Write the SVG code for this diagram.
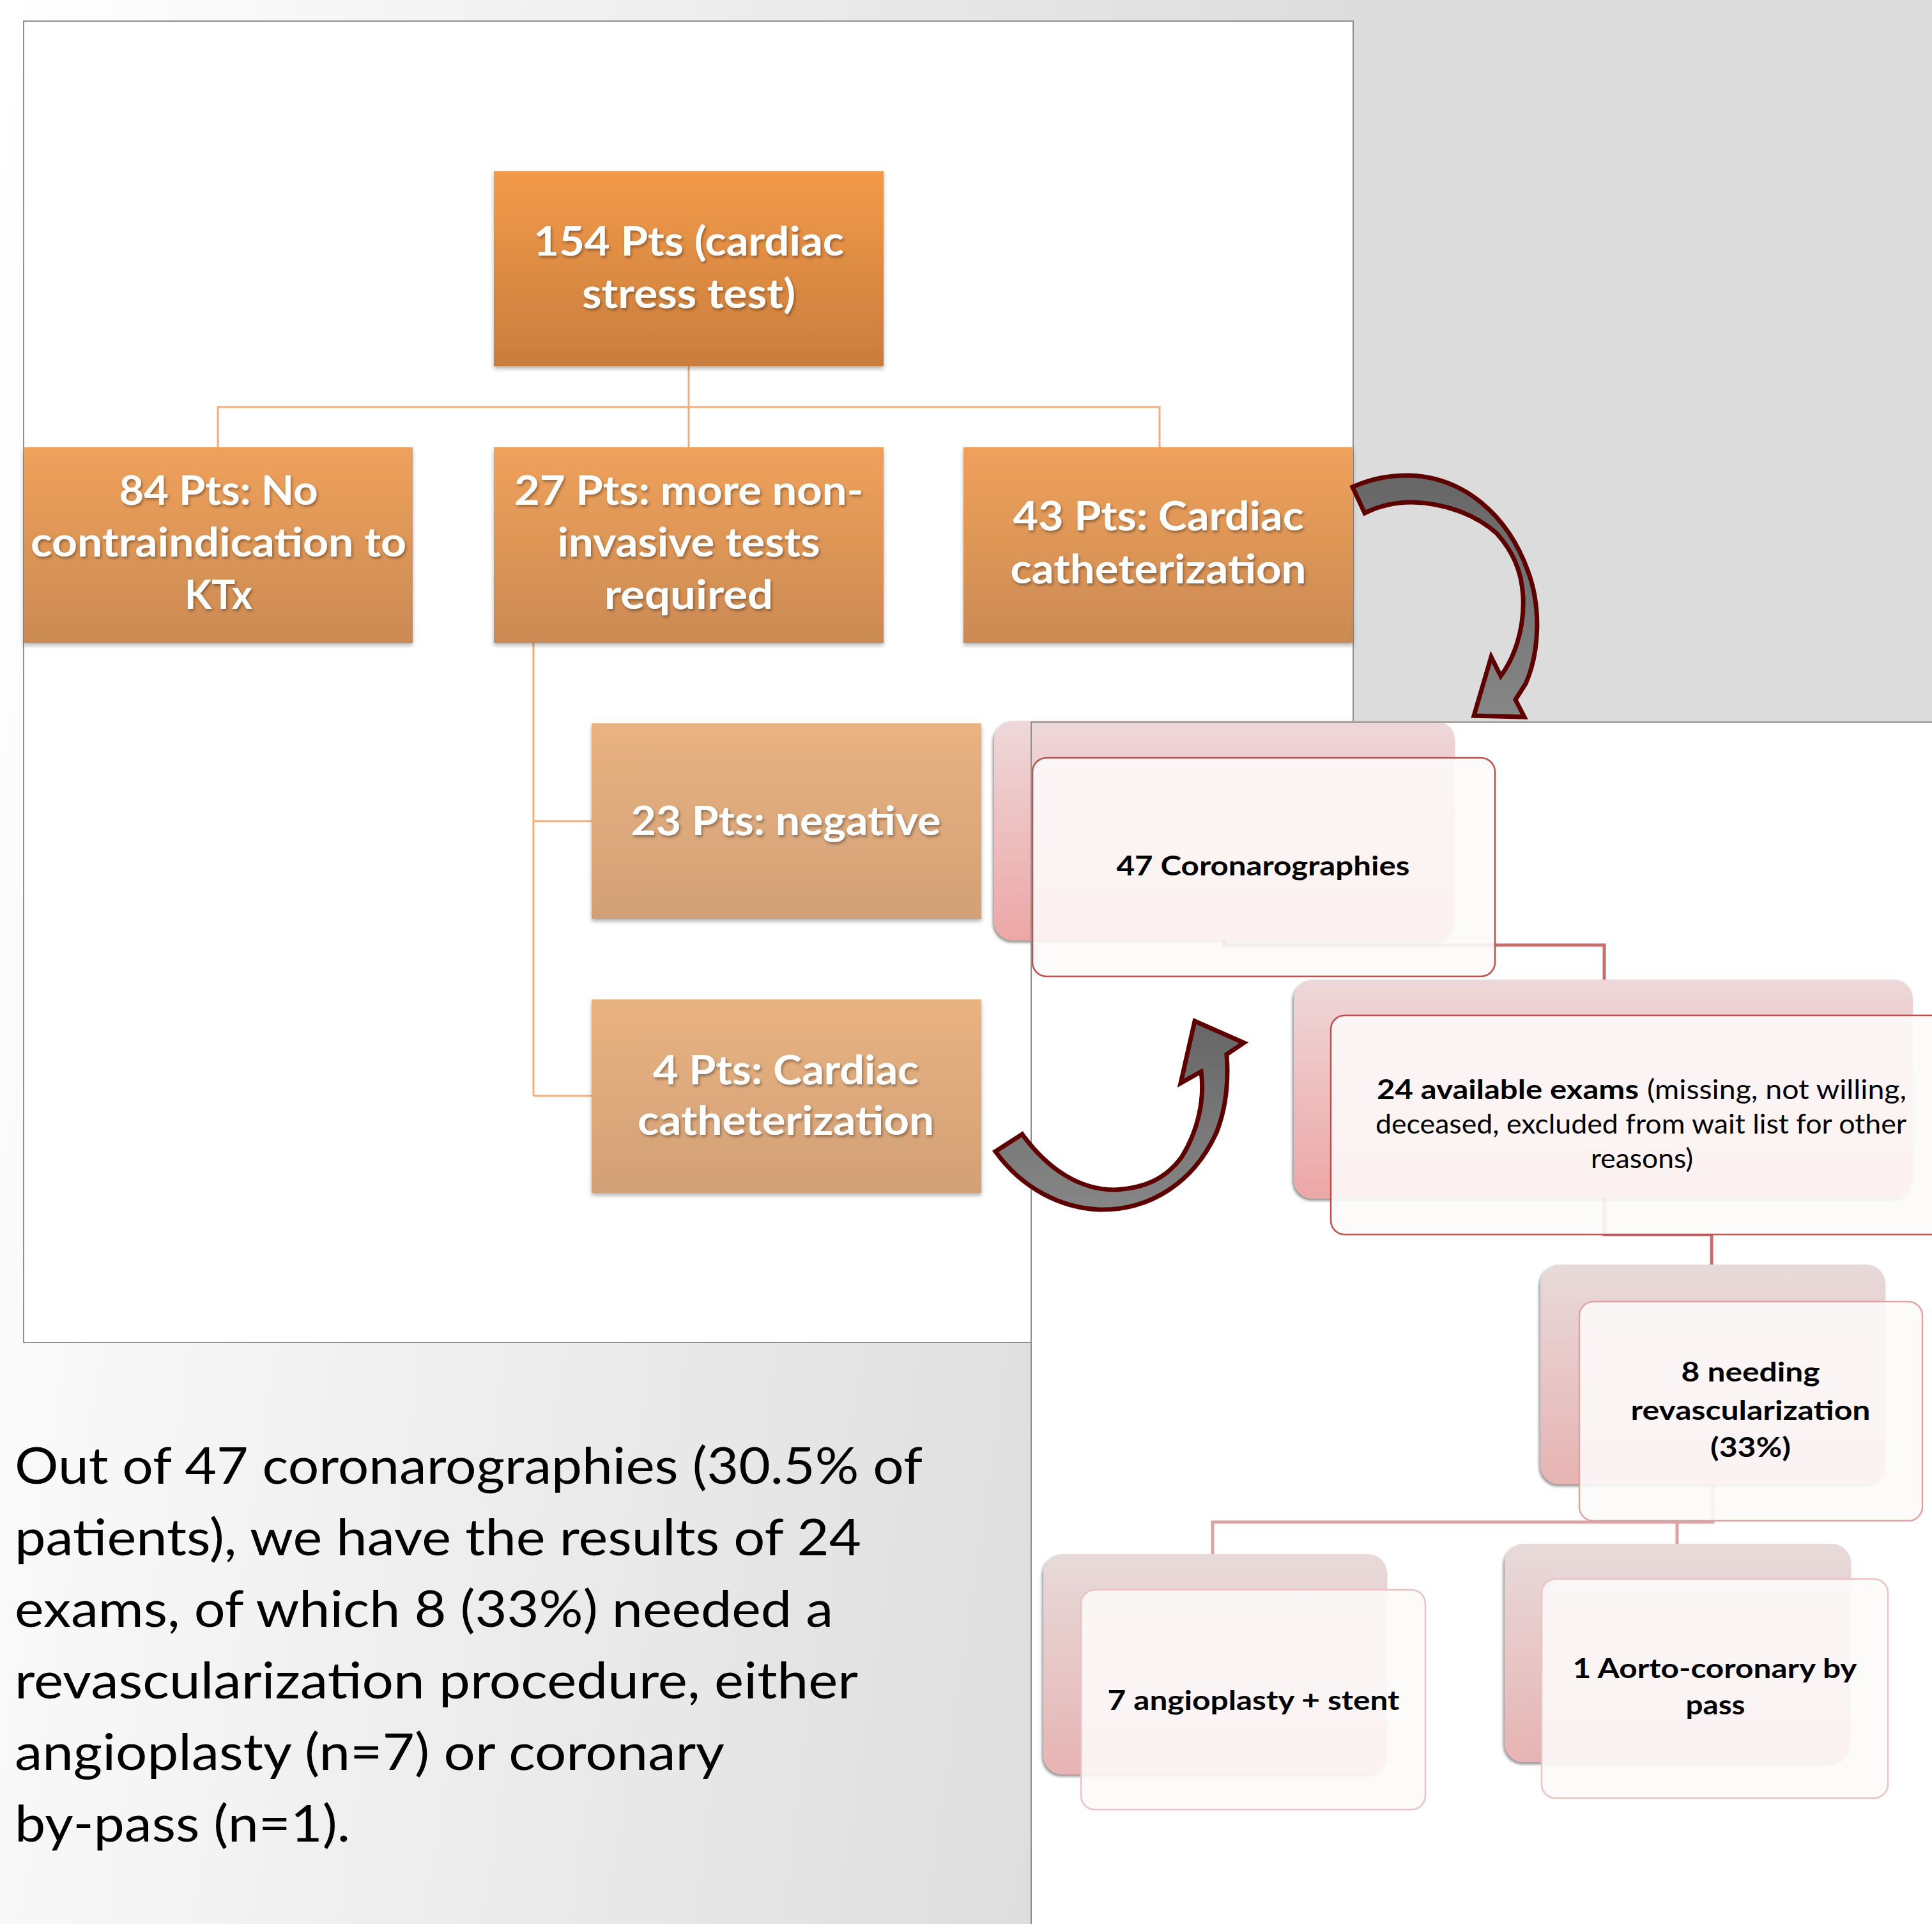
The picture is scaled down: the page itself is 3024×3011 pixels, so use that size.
<svg xmlns="http://www.w3.org/2000/svg" width="3024" height="3011" viewBox="0 0 3024 3011">
<style>
.ot{font-family:Lato,"Noto Sans","Liberation Sans",sans-serif;font-weight:700;font-size:64px;fill:#ffffff;text-anchor:middle;filter:url(#tsh)}
.rt{font-family:Lato,"Noto Sans","Liberation Sans",sans-serif;font-weight:700;font-size:42px;fill:#000000;text-anchor:middle}
.rr{font-family:Lato,"Noto Sans","Liberation Sans",sans-serif;font-weight:400;font-size:42px;fill:#000000}
.bt{font-family:Lato,"Noto Sans","Liberation Sans",sans-serif;font-weight:400;font-size:80px;fill:#000000}
.oc{fill:none;stroke:#F3AE78;stroke-width:3}
.rc{fill:none;stroke:#C66E6E;stroke-width:5}
.rc2{fill:none;stroke:#D9A3A3;stroke-width:5}
.arr{fill:url(#ga);stroke:#5E0000;stroke-width:7;stroke-linejoin:miter}
</style>
<defs>
<linearGradient id="bg" x1="0" y1="0" x2="2100" y2="300" gradientUnits="userSpaceOnUse">
<stop offset="0" stop-color="#FFFFFF"/><stop offset="1" stop-color="#DCDCDC"/>
</linearGradient>
<linearGradient id="g1" x1="0" y1="0" x2="0" y2="1"><stop offset="0" stop-color="#F29A49"/><stop offset="1" stop-color="#C97D3E"/></linearGradient>
<linearGradient id="g2" x1="0" y1="0" x2="0" y2="1"><stop offset="0" stop-color="#EFA15B"/><stop offset="1" stop-color="#CB8A53"/></linearGradient>
<linearGradient id="g3" x1="0" y1="0" x2="0" y2="1"><stop offset="0" stop-color="#E9B381"/><stop offset="1" stop-color="#D2A077"/></linearGradient>
<linearGradient id="p1" x1="0" y1="0" x2="0" y2="1"><stop offset="0" stop-color="#EED8D9"/><stop offset="1" stop-color="#EDA6A6"/></linearGradient>
<linearGradient id="p2" x1="0" y1="0" x2="0" y2="1"><stop offset="0" stop-color="#E8DADA"/><stop offset="1" stop-color="#E7B3B3"/></linearGradient>
<linearGradient id="ga" x1="0" y1="0" x2="0" y2="1"><stop offset="0" stop-color="#666666"/><stop offset="1" stop-color="#868686"/></linearGradient>
<filter id="tsh" x="-10%" y="-30%" width="120%" height="160%"><feDropShadow dx="2" dy="3" stdDeviation="2" flood-color="#000000" flood-opacity="0.35"/></filter>
<filter id="bsh" x="-5%" y="-5%" width="110%" height="115%"><feDropShadow dx="0" dy="4" stdDeviation="3" flood-color="#000000" flood-opacity="0.3"/></filter>
<filter id="psh" x="-5%" y="-5%" width="110%" height="110%"><feDropShadow dx="-2" dy="3" stdDeviation="2" flood-color="#000000" flood-opacity="0.45"/></filter>
</defs>

<rect id="background" x="0" y="0" width="3024" height="3011" fill="url(#bg)"/>
<rect id="left-panel" x="37" y="33" width="2081" height="2068" fill="#FFFFFF" stroke="#8F8F8F" stroke-width="2"/>

<g id="connectors-left">
<path class="oc" d="M1078,573 V637 M341,700 V637 H1815 V700 M1078,637 V700"/>
<path class="oc" d="M835,1006 V1715 M835,1285 H926 M835,1715 H926"/>
</g>

<g id="node-154">
<rect x="773" y="268" width="610" height="305" fill="url(#g1)" filter="url(#bsh)"/>
<text class="ot" x="1078" y="400" textLength="486" lengthAdjust="spacingAndGlyphs">154 Pts (cardiac</text>
<text class="ot" x="1078" y="482" textLength="334" lengthAdjust="spacingAndGlyphs">stress test)</text>
</g>
<g id="node-84">
<rect x="37" y="700" width="609" height="306" fill="url(#g2)" filter="url(#bsh)"/>
<text class="ot" x="342" y="790" textLength="311" lengthAdjust="spacingAndGlyphs">84 Pts: No</text>
<text class="ot" x="342" y="871" textLength="588" lengthAdjust="spacingAndGlyphs">contraindication to</text>
<text class="ot" x="342" y="953" textLength="106" lengthAdjust="spacingAndGlyphs">KTx</text>
</g>
<g id="node-27">
<rect x="773" y="700" width="610" height="306" fill="url(#g2)" filter="url(#bsh)"/>
<text class="ot" x="1078" y="790" textLength="546" lengthAdjust="spacingAndGlyphs">27 Pts: more non-</text>
<text class="ot" x="1078" y="871" textLength="411" lengthAdjust="spacingAndGlyphs">invasive tests</text>
<text class="ot" x="1078" y="953" textLength="264" lengthAdjust="spacingAndGlyphs">required</text>
</g>
<g id="node-43">
<rect x="1508" y="700" width="610" height="306" fill="url(#g2)" filter="url(#bsh)"/>
<text class="ot" x="1813" y="830" textLength="455" lengthAdjust="spacingAndGlyphs">43 Pts: Cardiac</text>
<text class="ot" x="1813" y="913" textLength="463" lengthAdjust="spacingAndGlyphs">catheterization</text>
</g>
<g id="node-23">
<rect x="926" y="1132" width="610" height="306" fill="url(#g3)" filter="url(#bsh)"/>
<text class="ot" x="1230" y="1307" textLength="485" lengthAdjust="spacingAndGlyphs">23 Pts: negative</text>
</g>
<g id="node-4">
<rect x="926" y="1564" width="610" height="303" fill="url(#g3)" filter="url(#bsh)"/>
<text class="ot" x="1230" y="1697" textLength="416" lengthAdjust="spacingAndGlyphs">4 Pts: Cardiac</text>
<text class="ot" x="1230" y="1776" textLength="464" lengthAdjust="spacingAndGlyphs">catheterization</text>
</g>

<g id="arrow-top">
<path class="arr" d="M2117,762 C2150,748 2175,744 2205,744 C2290,746 2360,805 2392,895 C2412,950 2410,1020 2388,1070 L2372,1095 L2386,1122 L2307,1120 L2334,1028 L2349,1058 C2370,1030 2386,985 2384,935 C2382,890 2365,860 2343,835 C2310,805 2260,787 2210,786 C2180,786 2158,792 2136,803 Z"/>
</g>

<rect id="right-panel" x="1614" y="1130" width="1420" height="1890" fill="#FFFFFF"/>

<g id="connectors-right">
<path class="rc" d="M1916,1472 V1479 H2511 V1533"/>
<path class="rc" d="M2511,1876 V1932 H2679 V1979"/>
<path class="rc2" d="M2681,2323 V2382 H1898 V2432 M2625,2382 V2416"/>
</g>

<g id="node-47">
<rect x="1556" y="1128" width="721" height="344" rx="30" fill="url(#p1)" filter="url(#psh)"/>
<rect x="1616" y="1186" width="724" height="342" rx="22" fill="#FDF9F9" fill-opacity="0.9" stroke="#C0504D" stroke-width="2.5"/>
<text class="rt" x="1977" y="1370" textLength="459" lengthAdjust="spacingAndGlyphs">47 Coronarographies</text>
</g>
<g id="node-24">
<rect x="2025" y="1533" width="969" height="343" rx="30" fill="url(#p1)" filter="url(#psh)"/>
<rect x="2083" y="1589" width="977" height="343" rx="22" fill="#FDF9F9" fill-opacity="0.9" stroke="#C0504D" stroke-width="2.5"/>
<text class="rt" x="2155" y="1720" style="text-anchor:start" textLength="410" lengthAdjust="spacingAndGlyphs">24 available exams</text>
<text class="rr" x="2578" y="1720" textLength="406" lengthAdjust="spacingAndGlyphs">(missing, not willing,</text>
<text class="rr" x="2153" y="1774" textLength="831" lengthAdjust="spacingAndGlyphs">deceased, excluded from wait list for other</text>
<text class="rr" x="2490" y="1828" textLength="160" lengthAdjust="spacingAndGlyphs">reasons)</text>
</g>
<g id="node-8">
<rect x="2411" y="1979" width="540" height="344" rx="30" fill="url(#p2)" filter="url(#psh)"/>
<rect x="2472" y="2037" width="537" height="343" rx="22" fill="#FDF9F9" fill-opacity="0.9" stroke="#E2A3A3" stroke-width="2.5"/>
<text class="rt" x="2740" y="2162" textLength="217" lengthAdjust="spacingAndGlyphs">8 needing</text>
<text class="rt" x="2740" y="2222" textLength="375" lengthAdjust="spacingAndGlyphs">revascularization</text>
<text class="rt" x="2740" y="2280" textLength="126" lengthAdjust="spacingAndGlyphs">(33%)</text>
</g>
<g id="node-7">
<rect x="1633" y="2432" width="538" height="345" rx="30" fill="url(#p2)" filter="url(#psh)"/>
<rect x="1692" y="2488" width="539" height="344" rx="22" fill="#FDF9F9" fill-opacity="0.9" stroke="#EBC2C2" stroke-width="2.5"/>
<text class="rt" x="1962" y="2676" textLength="457" lengthAdjust="spacingAndGlyphs">7 angioplasty + stent</text>
</g>
<g id="node-1">
<rect x="2355" y="2416" width="542" height="342" rx="30" fill="url(#p2)" filter="url(#psh)"/>
<rect x="2413" y="2471" width="542" height="343" rx="22" fill="#FDF9F9" fill-opacity="0.9" stroke="#EBC2C2" stroke-width="2.5"/>
<text class="rt" x="2684" y="2626" textLength="445" lengthAdjust="spacingAndGlyphs">1 Aorto-coronary by</text>
<text class="rt" x="2685" y="2683" textLength="93" lengthAdjust="spacingAndGlyphs">pass</text>
</g>

<path id="right-panel-border" d="M1614,3011 V1130 H3024" fill="none" stroke="#8F8F8F" stroke-width="2"/>

<g id="arrow-bottom">
<path class="arr" d="M1558,1802 C1600,1860 1660,1890 1720,1893 C1800,1895 1870,1850 1905,1770 C1920,1730 1923,1690 1920,1650 L1947,1632 L1870,1598 L1848,1695 L1880,1677 C1886,1720 1875,1770 1850,1810 C1825,1845 1790,1860 1745,1862 C1690,1862 1640,1830 1600,1775 Z"/>
</g>

<g id="summary-text">
<text class="bt" x="23" y="2322" textLength="1421" lengthAdjust="spacingAndGlyphs">Out of 47 coronarographies (30.5% of</text>
<text class="bt" x="23" y="2434" textLength="1325" lengthAdjust="spacingAndGlyphs">patients), we have the results of 24</text>
<text class="bt" x="23" y="2546" textLength="1281" lengthAdjust="spacingAndGlyphs">exams, of which 8 (33%) needed a</text>
<text class="bt" x="23" y="2658" textLength="1320" lengthAdjust="spacingAndGlyphs">revascularization procedure, either</text>
<text class="bt" x="23" y="2770" textLength="1111" lengthAdjust="spacingAndGlyphs">angioplasty (n=7) or coronary</text>
<text class="bt" x="23" y="2882" textLength="525" lengthAdjust="spacingAndGlyphs">by-pass (n=1).</text>
</g>
</svg>
